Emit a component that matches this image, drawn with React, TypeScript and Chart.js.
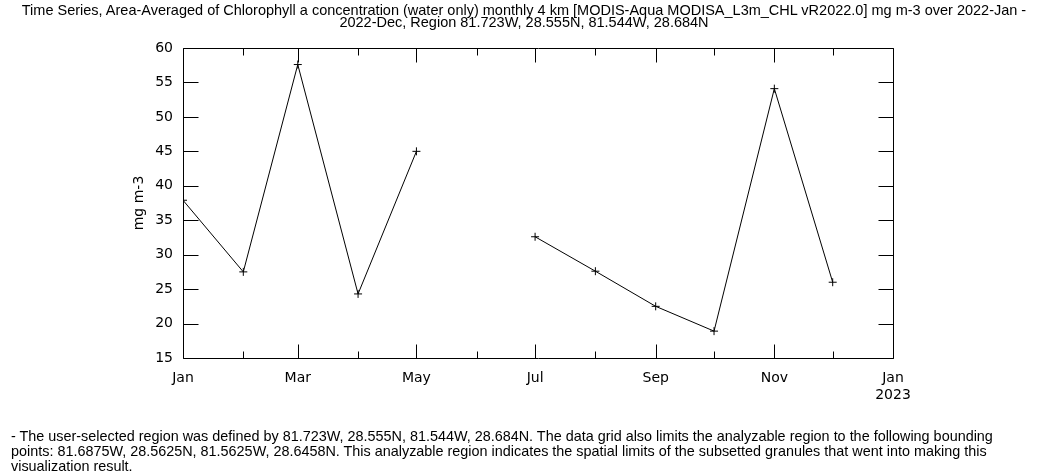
import React, { useEffect, useRef } from "react";
import { Chart, registerables } from "chart.js";

Chart.register(...registerables);

const monthStarts = [0, 31, 59, 90, 120, 151, 181, 212, 243, 273, 304, 334];
const chlValues: (number | null)[] = [37.9, 27.5, 57.6, 24.3, 45.0, null, 32.6, 27.6, 22.5, 18.9, 54.1, 26.0];
const tickDays = [0, 31, 59, 90, 120, 151, 181, 212, 243, 273, 304, 334, 365];
const tickLabels: (string | string[])[] = ["Jan", "", "Mar", "", "May", "", "Jul", "", "Sep", "", "Nov", "", ["Jan", "2023"]];
const majorTick = [true, false, true, false, true, false, true, false, true, false, true, false, true];
const yTicks = [15, 20, 25, 30, 35, 40, 45, 50, 55, 60];

const titleLines = [
  "Time Series, Area-Averaged of Chlorophyll a concentration (water only) monthly 4 km [MODIS-Aqua MODISA_L3m_CHL vR2022.0] mg m-3 over 2022-Jan -",
  "2022-Dec, Region 81.723W, 28.555N, 81.544W, 28.684N",
];
const noteLines = [
  "- The user-selected region was defined by 81.723W, 28.555N, 81.544W, 28.684N. The data grid also limits the analyzable region to the following bounding",
  "points: 81.6875W, 28.5625N, 81.5625W, 28.6458N. This analyzable region indicates the spatial limits of the subsetted granules that went into making this",
  "visualization result.",
];

const framePlugin = {
  id: "frame",
  afterDraw(chart: any) {
    const { ctx, chartArea } = chart;
    const xs = chart.scales.x;
    const ys = chart.scales.y;
    const { left, right, top, bottom } = chartArea;
    ctx.save();
    ctx.strokeStyle = "#000";
    ctx.lineWidth = 1;
    ctx.beginPath();
    const L = Math.round(left) + 0.5, R = Math.round(right) + 0.5, T = Math.round(top) + 0.5, B = Math.round(bottom) + 0.5;
    ctx.rect(L, T, R - L, B - T);
    for (const v of yTicks) {
      const y = Math.round(ys.getPixelForValue(v)) + 0.5;
      ctx.moveTo(L, y); ctx.lineTo(L + 15, y);
      ctx.moveTo(R, y); ctx.lineTo(R - 15, y);
    }
    tickDays.forEach((d, i) => {
      const x = Math.round(xs.getPixelForValue(d)) + 0.5;
      const len = majorTick[i] ? 14 : 7;
      ctx.moveTo(x, B); ctx.lineTo(x, B - len);
      ctx.moveTo(x, T); ctx.lineTo(x, T + len);
    });
    ctx.stroke();
    ctx.restore();
  },
};

export default function App() {
  const ref = useRef<HTMLCanvasElement>(null);
  useEffect(() => {
    const chart = new Chart(ref.current!, {
      type: "line",
      data: {
        datasets: [
          {
            data: monthStarts.map((d, i) => ({ x: d, y: chlValues[i] as any })),
            borderColor: "#000",
            borderWidth: 1,
            pointStyle: "cross",
            pointRadius: 4,
            pointBorderWidth: 1,
            pointBorderColor: "#000",
            spanGaps: false,
            tension: 0,
          },
        ],
      },
      options: {
        responsive: false,
        animation: false,
        devicePixelRatio: 1,
        layout: { padding: { top: 48, right: 155, left: 0, bottom: 0 } },
        plugins: { legend: { display: false }, tooltip: { enabled: false }, title: { display: false } },
        scales: {
          x: {
            type: "linear",
            min: 0,
            max: 365,
            grid: { display: false, drawTicks: false },
            border: { display: false },
            afterBuildTicks: (s: any) => {
              s.ticks = tickDays.map((v) => ({ value: v }));
            },
            afterFit: (s: any) => {
              s.height = 117;
            },
            ticks: {
              autoSkip: false,
              maxRotation: 0,
              padding: 12,
              color: "#000",
              font: { family: "DejaVu Sans", size: 14 },
              callback: (v: any) => {
                const i = tickDays.indexOf(Number(v));
                return i >= 0 ? tickLabels[i] : "";
              },
            },
          },
          y: {
            min: 15,
            max: 60,
            grid: { display: false, drawTicks: false },
            border: { display: false },
            afterBuildTicks: (s: any) => {
              s.ticks = yTicks.map((v) => ({ value: v }));
            },
            afterFit: (s: any) => {
              s.width = 183;
            },
            ticks: {
              padding: 10,
              color: "#000",
              font: { family: "DejaVu Sans", size: 14 },
            },
            title: {
              display: true,
              text: "mg m-3",
              color: "#000",
              font: { family: "DejaVu Sans", size: 14 },
              padding: { top: 131, bottom: 0 },
            },
          },
        },
      },
      plugins: [framePlugin],
    } as any);
    return () => chart.destroy();
  }, []);

  const textFont = "'Liberation Sans', Arial, sans-serif";
  return (
    <div style={{ position: "absolute", left: 0, top: 0, width: 1048, height: 475, background: "#fff" }}>
      <canvas ref={ref} width={1048} height={475} style={{ position: "absolute", left: 0, top: 0, width: 1048, height: 475 }} />
      <div
        style={{
          position: "absolute",
          left: 0,
          top: 4,
          width: 1048,
          textAlign: "center",
          fontFamily: textFont,
          fontSize: 14.5,
          lineHeight: "12px",
          color: "#000",
          whiteSpace: "nowrap",
        }}
      >
        {titleLines.map((l, i) => (
          <div key={i}>{l}</div>
        ))}
      </div>
      <div
        style={{
          position: "absolute",
          left: 11,
          top: 429,
          fontFamily: textFont,
          fontSize: 14.4,
          lineHeight: "14.8px",
          color: "#000",
          whiteSpace: "nowrap",
        }}
      >
        {noteLines.map((l, i) => (
          <div key={i}>{l}</div>
        ))}
      </div>
    </div>
  );
}
